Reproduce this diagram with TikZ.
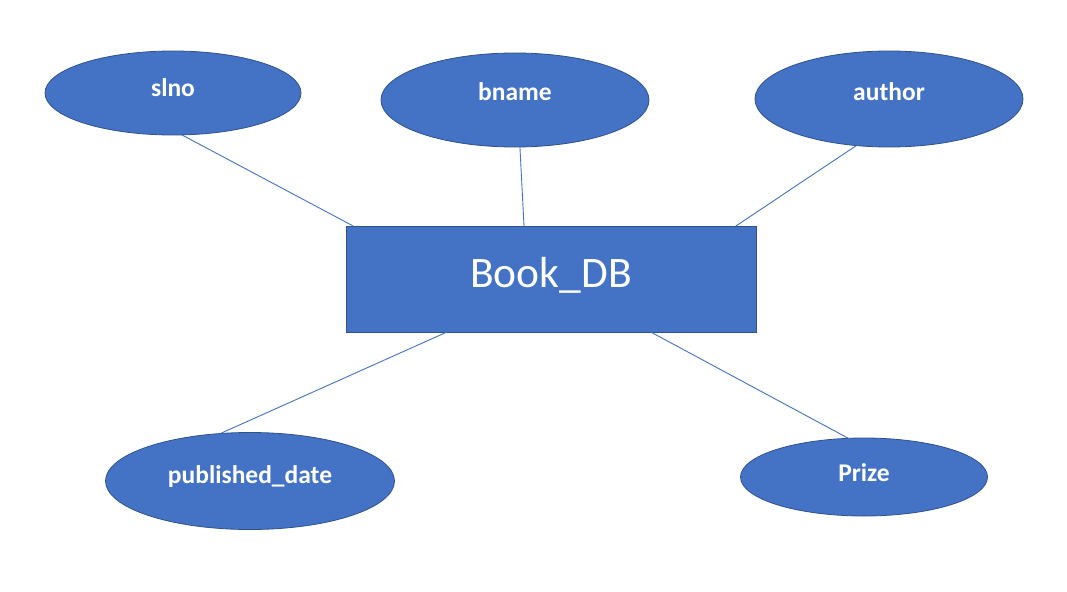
\documentclass[tikz,border=0pt]{standalone}
\usepackage{fontspec}
\setmainfont{Carlito}
\usetikzlibrary{shapes.geometric}
\definecolor{fillblue}{HTML}{4472C4}
\definecolor{edgeblue}{HTML}{2F528F}
\begin{document}
\begin{tikzpicture}[x=1pt,y=-1pt,
  attr/.style={ellipse,fill=fillblue,draw=edgeblue,line width=0.8pt,inner sep=0pt,outer sep=0pt,
    text=white,font=\bfseries\fontsize{25.5}{28}\selectfont},
  entity/.style={rectangle,fill=fillblue,draw=edgeblue,line width=0.8pt,inner sep=0pt,outer sep=0pt,
    minimum width=410pt,minimum height=106pt,text=white,font=\fontsize{43.5}{50}\selectfont},
  link/.style={draw=fillblue,line width=0.9pt}]
\useasboundingbox (0,0) rectangle (1067,591);
\fill[white] (0,0) rectangle (1067,591);
\node[entity] (book) at (551,279) {\raisebox{14pt}{Book\_DB}};
\node[attr,minimum width=256pt,minimum height=84pt] (slno) at (173,93) {\raisebox{11pt}{slno}};
\node[attr,minimum width=268pt,minimum height=94pt] (bname) at (515,100) {\raisebox{16pt}{bname}};
\node[attr,minimum width=268pt,minimum height=96pt] (author) at (889,99) {\raisebox{15pt}{author}};
\node[attr,minimum width=289pt,minimum height=97pt] (pub) at (250,481) {\raisebox{12pt}{published\_date}};
\node[attr,minimum width=247pt,minimum height=78pt] (prize) at (864,477) {\raisebox{8pt}{Prize}};
\draw[link] (slno.-78) -- (book.165.2);
\draw[link] (bname.-84) -- (book.117);
\draw[link] (author.-125.3) -- (book.16.1);
\draw[link] (book.207.2) -- (pub.122);
\draw[link] (book.-28.3) -- (prize.112.3);
\end{tikzpicture}
\end{document}
